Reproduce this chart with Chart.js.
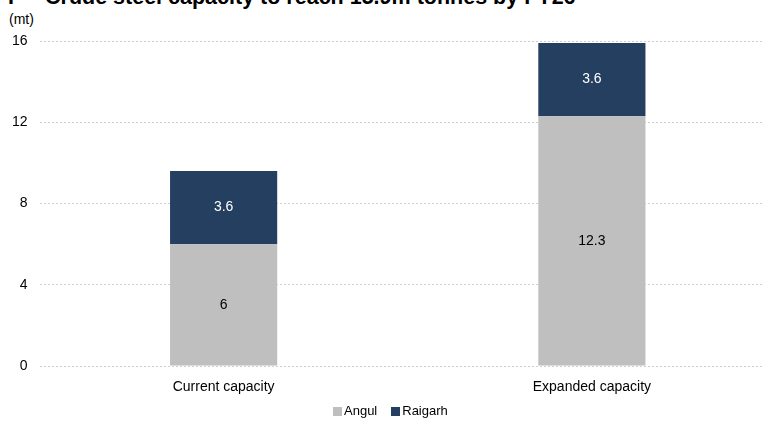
<!DOCTYPE html>
<html>
<head>
<meta charset="utf-8">
<script src="https://cdn.jsdelivr.net/npm/chart.js@4"></script>
<style>
    html, body {
        margin: 0;
        padding: 0;
        background: #fff;
        overflow: hidden;
        width: 764px;
        height: 421px;
    }
    .wrap {
        position: relative;
        width: 764px;
        height: 421px;
        font-family: 'Liberation Sans', Arial, sans-serif;
        color: #000;
    }
    .title {
        position: absolute;
        left: 0;
        top: -13px;
        font: bold 21.5px 'Liberation Sans', Arial, sans-serif;
        line-height: 21.5px;
        white-space: nowrap;
    }
    .title .num { position: absolute; left: 8px; }
    .title .txt { position: absolute; left: 45px; }
    .unit {
        position: absolute;
        left: 9px;
        top: 11px;
        font-size: 14px;
        line-height: 17px;
    }
    .box {
        position: absolute;
        left: 0;
        top: 0;
        width: 776px;
        height: 421px;
    }
    .legend {
        position: absolute;
        top: 403px;
        left: 333px;
        font-size: 13px;
        line-height: 16px;
        white-space: nowrap;
    }
    .legend span.sw {
        display: inline-block;
        width: 9px;
        height: 9px;
        margin-right: 2px;
        vertical-align: -1px;
    }
    .legend span.item { margin-right: 14px; }
</style>
</head>
<body>
<div class="wrap">
    <div class="title"><span class="num">F</span><span class="txt">Crude steel capacity to reach 15.9m tonnes by FY26</span></div>
    <div class="unit">(mt)</div>
    <div class="box"><canvas id="capacityChart" width="776" height="421"></canvas></div>
    <div class="legend" id="legend"></div>
</div>

<script>
/* =========================================================
   DATA
========================================================= */
const categories = ['Current capacity', 'Expanded capacity'];
const angulValues = [6, 12.3];
const raigarhValues = [3.6, 3.6];
const yTicks = [0, 4, 8, 12, 16];

const seriesNames = ['Angul', 'Raigarh'];
const seriesColors = ['#bfbfbf', '#243f60'];
const labelColors = ['#000000', '#ffffff'];

const fontFamily = "'Liberation Sans', Arial, sans-serif";
const fontSize = 14;

/* =========================================================
   VALUE LABELS
========================================================= */
const barLabels = {
    id: 'barLabels',
    afterDatasetsDraw(chart) {
        const ctx = chart.ctx;
        ctx.save();
        ctx.font = fontSize + 'px ' + fontFamily;
        ctx.textAlign = 'center';
        ctx.textBaseline = 'middle';

        chart.data.datasets.forEach((ds, i) => {
            const meta = chart.getDatasetMeta(i);
            ctx.fillStyle = labelColors[i];
            meta.data.forEach((bar, j) => {
                const p = bar.getCenterPoint();
                ctx.fillText(String(ds.data[j]), p.x, p.y);
            });
        });
        ctx.restore();
    }
};

/* =========================================================
   LEGEND
========================================================= */
document.getElementById('legend').innerHTML = seriesNames
    .map((name, i) =>
        '<span class="item"><span class="sw" style="background:' +
        seriesColors[i] + '"></span>' + name + '</span>')
    .join('');

/* =========================================================
   CHART INIT
========================================================= */
new Chart(document.getElementById('capacityChart'), {
    type: 'bar',
    data: {
        labels: categories,
        datasets: [{
            label: seriesNames[0],
            data: angulValues,
            backgroundColor: seriesColors[0],
            barPercentage: 0.291,
            categoryPercentage: 1
        }, {
            label: seriesNames[1],
            data: raigarhValues,
            backgroundColor: seriesColors[1],
            barPercentage: 0.291,
            categoryPercentage: 1
        }]
    },
    options: {
        responsive: false,
        animation: false,
        layout: {
            padding: { top: 41, right: 0, bottom: 0, left: 0 }
        },
        plugins: {
            legend: { display: false },
            tooltip: { enabled: false }
        },
        scales: {
            x: {
                stacked: true,
                grid: { display: false, drawTicks: false },
                border: { display: false },
                ticks: {
                    color: '#000',
                    padding: 13,
                    font: { family: fontFamily, size: fontSize }
                },
                afterFit(scale) { scale.height = 55; }
            },
            y: {
                stacked: true,
                min: 0,
                max: 16,
                afterBuildTicks(scale) {
                    scale.ticks = yTicks.map(v => ({ value: v }));
                },
                grid: {
                    color: '#d0d0d0',
                    drawTicks: false
                },
                border: { display: false, dash: [2, 2] },
                ticks: {
                    color: '#000',
                    padding: 12,
                    font: { family: fontFamily, size: fontSize }
                },
                afterFit(scale) { scale.width = 39.5; }
            }
        }
    },
    plugins: [barLabels]
});
</script>
</body>
</html>
